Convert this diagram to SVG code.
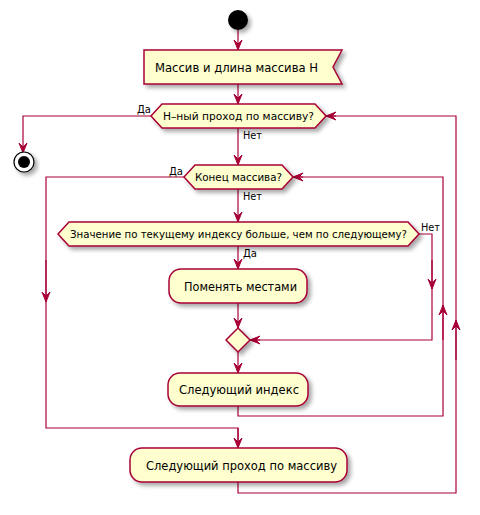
<svg xmlns="http://www.w3.org/2000/svg" width="480" height="515" viewBox="0 0 480 515">
<style>
.n{fill:#FEFECE;stroke:#A80036;stroke-width:1.5;filter:url(#sh)}
.l{fill:none;stroke:#A80036;stroke-width:1.2}
.t{font-family:"DejaVu Sans",sans-serif;font-size:12.5px;fill:#000}
.d{font-family:"DejaVu Sans",sans-serif;font-size:11px;fill:#000}
</style>
<defs>
<filter id="sh" x="-20%" y="-30%" width="150%" height="170%">
<feDropShadow dx="3" dy="3" stdDeviation="2" flood-color="#000" flood-opacity="0.35"/>
</filter>
<marker id="a" viewBox="0 0 10 10" refX="10" refY="5" markerWidth="10" markerHeight="10" markerUnits="userSpaceOnUse" orient="auto">
<path d="M0,1 L10,5 L0,9 L4,5 Z" fill="#A80036" stroke="#A80036" stroke-width="1"/>
</marker>
</defs>
<g id="connectors">
<path class="l" d="M238,30 V50" marker-end="url(#a)"/>
<path class="l" d="M238,84 V104" marker-end="url(#a)"/>
<path class="l" d="M151,116 H23 V153" marker-end="url(#a)"/>
<path class="l" d="M238,128 V165" marker-end="url(#a)"/>
<path class="l" d="M184,177 H46 V428 H238 V448"/>
<path class="l" d="M46,260 V302" marker-end="url(#a)"/>
<path class="l" d="M238,428 V448" marker-end="url(#a)"/>
<path class="l" d="M238,189 V222" marker-end="url(#a)"/>
<path class="l" d="M419,234 H432 V340 H250"/>
<path class="l" d="M432,260 V289" marker-end="url(#a)"/>
<path class="l" d="M260,340 H250" marker-end="url(#a)"/>
<path class="l" d="M238,246 V269" marker-end="url(#a)"/>
<path class="l" d="M238,303 V328" marker-end="url(#a)"/>
<path class="l" d="M238,352 V373" marker-end="url(#a)"/>
<path class="l" d="M238,406 V416 H443 V177 H293"/>
<path class="l" d="M443,340 V305" marker-end="url(#a)"/>
<path class="l" d="M303,177 H293" marker-end="url(#a)"/>
<path class="l" d="M238,482 V493 H456 V116 H326"/>
<path class="l" d="M456,360 V320" marker-end="url(#a)"/>
<path class="l" d="M336,116 H326" marker-end="url(#a)"/>
</g>
<g id="start"><circle cx="238" cy="20" r="10" fill="#000" filter="url(#sh)"/></g>
<g id="stop">
<circle cx="24" cy="162" r="10" fill="#fff" stroke="#000" stroke-width="1.2" filter="url(#sh)"/>
<circle cx="24" cy="162" r="6" fill="#000"/>
</g>
<g id="input">
<path class="n" d="M144,50 H342 L333,67 L342,84 H144 Z"/>
<text class="t" x="155" y="72" textLength="163" lengthAdjust="spacingAndGlyphs">Массив и длина массива Н</text>
</g>
<g id="dec1">
<path class="n" d="M151,116 L162,104 H315 L326,116 L315,128 H162 Z"/>
<text class="d" x="163" y="120" textLength="151" lengthAdjust="spacingAndGlyphs">Н–ный проход по массиву?</text>
<text class="d" x="137" y="113" textLength="14" lengthAdjust="spacingAndGlyphs">Да</text>
<text class="d" x="243" y="139" textLength="19" lengthAdjust="spacingAndGlyphs">Нет</text>
</g>
<g id="dec2">
<path class="n" d="M184,177 L195,165 H282 L293,177 L282,189 H195 Z"/>
<text class="d" x="195" y="181" textLength="87" lengthAdjust="spacingAndGlyphs">Конец массива?</text>
<text class="d" x="169" y="175" textLength="14" lengthAdjust="spacingAndGlyphs">Да</text>
<text class="d" x="243" y="200" textLength="19" lengthAdjust="spacingAndGlyphs">Нет</text>
</g>
<g id="dec3">
<path class="n" d="M58,234 L69,222 H408 L419,234 L408,246 H69 Z"/>
<text class="d" x="70" y="238" style="font-size:10px" textLength="337" lengthAdjust="spacingAndGlyphs">Значение по текущему индексу больше, чем по следующему?</text>
<text class="d" x="421" y="231" textLength="19" lengthAdjust="spacingAndGlyphs">Нет</text>
<text class="d" x="243" y="257" textLength="14" lengthAdjust="spacingAndGlyphs">Да</text>
</g>
<g id="swap">
<rect class="n" x="169" y="269" width="138" height="34" rx="12"/>
<text class="t" x="184" y="291" textLength="113" lengthAdjust="spacingAndGlyphs">Поменять местами</text>
</g>
<g id="merge"><path class="n" d="M238,328 L250,340 L238,352 L226,340 Z"/></g>
<g id="next">
<rect class="n" x="168" y="373" width="140" height="33" rx="12"/>
<text class="t" x="179" y="394" textLength="120" lengthAdjust="spacingAndGlyphs">Следующий индекс</text>
</g>
<g id="pass">
<rect class="n" x="130" y="448" width="217" height="34" rx="12"/>
<text class="t" x="146" y="470" textLength="191" lengthAdjust="spacingAndGlyphs">Следующий проход по массиву</text>
</g>
</svg>
